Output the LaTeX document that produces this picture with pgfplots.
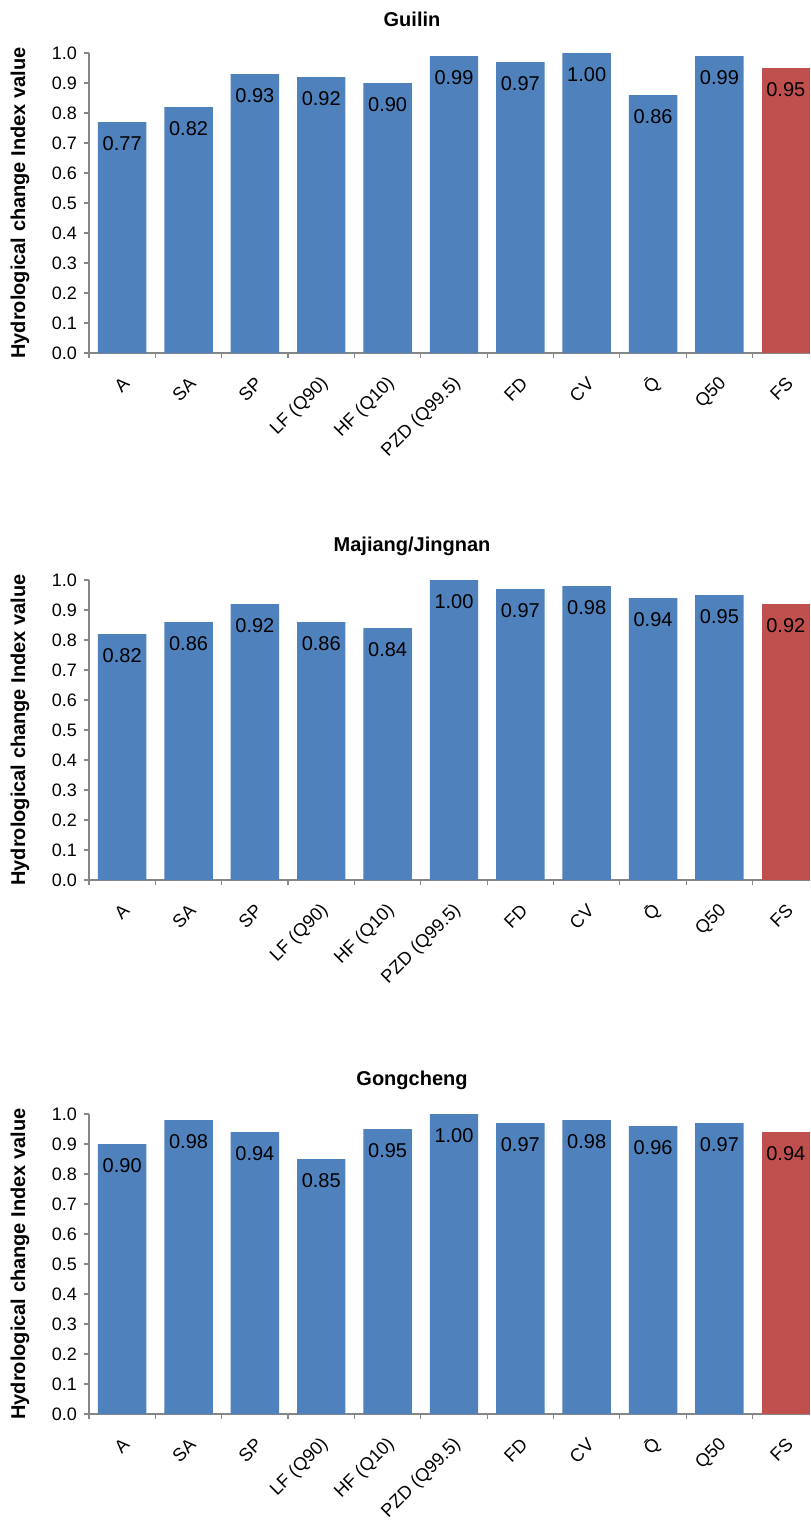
\documentclass[border=0pt]{standalone}
\usepackage{fontspec}
\setmainfont{Liberation Sans}
\usepackage{pgfplots}
\pgfplotsset{compat=1.18}

\definecolor{barblue}{HTML}{4F81BD}
\definecolor{barred}{HTML}{C0504D}
\definecolor{axisgray}{HTML}{868686}

\pgfplotsset{
  hcbar/.style={
    ybar, bar shift=0pt, bar width=0.73,
    scale only axis, width=360.5pt, height=150pt,
    xmin=-0.5, xmax=10.365, ymin=0, ymax=1,
    axis x line*=bottom, axis y line*=left,
    axis line style={draw=axisgray, line width=0.6pt},
    tick align=outside,
    major tick length=2.5pt, minor tick length=2.5pt,
    tick style={draw=axisgray, line width=0.6pt},
    ytick={0,0.1,0.2,0.3,0.4,0.5,0.6,0.7,0.8,0.9,1},
    yticklabel style={font=\fontsize{9}{11}\selectfont,
      /pgf/number format/fixed, /pgf/number format/fixed zerofill,
      /pgf/number format/precision=1, /pgf/number format/assume math mode=true},
    xtick={0,...,10},
    xticklabels={A, SA, SP, LF (Q90), HF (Q10), PZD (Q99.5), FD, CV, \={Q}, Q50, FS},
    major x tick style={draw=none},
    minor xtick={-0.5,0.5,...,9.5},
    x tick label style={font=\fontsize{9.1}{11}\selectfont, rotate=45, anchor=east,
                        inner sep=0.5pt, xshift=-6pt, yshift=-9.5pt},
    title style={at={(axis description cs:0.448,1)}, anchor=center, yshift=11pt,
                 font=\bfseries\fontsize{10}{12}\selectfont},
    ylabel={Hydrological change Index value},
    ylabel style={at={(axis description cs:-0.0957,0.5)}, anchor=center,
                  font=\bfseries\fontsize{10}{12}\selectfont},
    nodes near coords={\pgfmathprintnumber[fixed, fixed zerofill, precision=2, assume math mode=true]{\pgfplotspointmeta}},
    every node near coord/.style={anchor=north, inner sep=0pt, yshift=-7pt,
                                  font=\fontsize{10}{12}\selectfont, text=black},
  },
}

\pgfplotstableread{
x  guilin  majiang  gongcheng
0  0.77    0.82     0.90
1  0.82    0.86     0.98
2  0.93    0.92     0.94
3  0.92    0.86     0.85
4  0.90    0.84     0.95
5  0.99    1.00     1.00
6  0.97    0.97     0.97
7  1.00    0.98     0.98
8  0.86    0.94     0.96
9  0.99    0.95     0.97
}\indices

\pgfplotstableread{
x   guilin  majiang  gongcheng
10  0.95    0.92     0.94
}\fsindex

\begin{document}
\begin{tikzpicture}
  \begin{axis}[hcbar, at={(44.5pt,-176.5pt)}, title={Guilin}]
    \addplot[fill=barblue, draw=none] table[x=x, y=guilin] {\indices};
    \addplot[fill=barred, draw=none] table[x=x, y=guilin] {\fsindex};
  \end{axis}
  \begin{axis}[hcbar, at={(44.5pt,-440pt)}, title={Majiang/Jingnan}]
    \addplot[fill=barblue, draw=none] table[x=x, y=majiang] {\indices};
    \addplot[fill=barred, draw=none] table[x=x, y=majiang] {\fsindex};
  \end{axis}
  \begin{axis}[hcbar, at={(44.5pt,-707pt)}, title={Gongcheng}]
    \addplot[fill=barblue, draw=none] table[x=x, y=gongcheng] {\indices};
    \addplot[fill=barred, draw=none] table[x=x, y=gongcheng] {\fsindex};
  \end{axis}
  \pgfresetboundingbox
  \useasboundingbox (0pt,0pt) rectangle (405pt,-761pt);
\end{tikzpicture}
\end{document}
